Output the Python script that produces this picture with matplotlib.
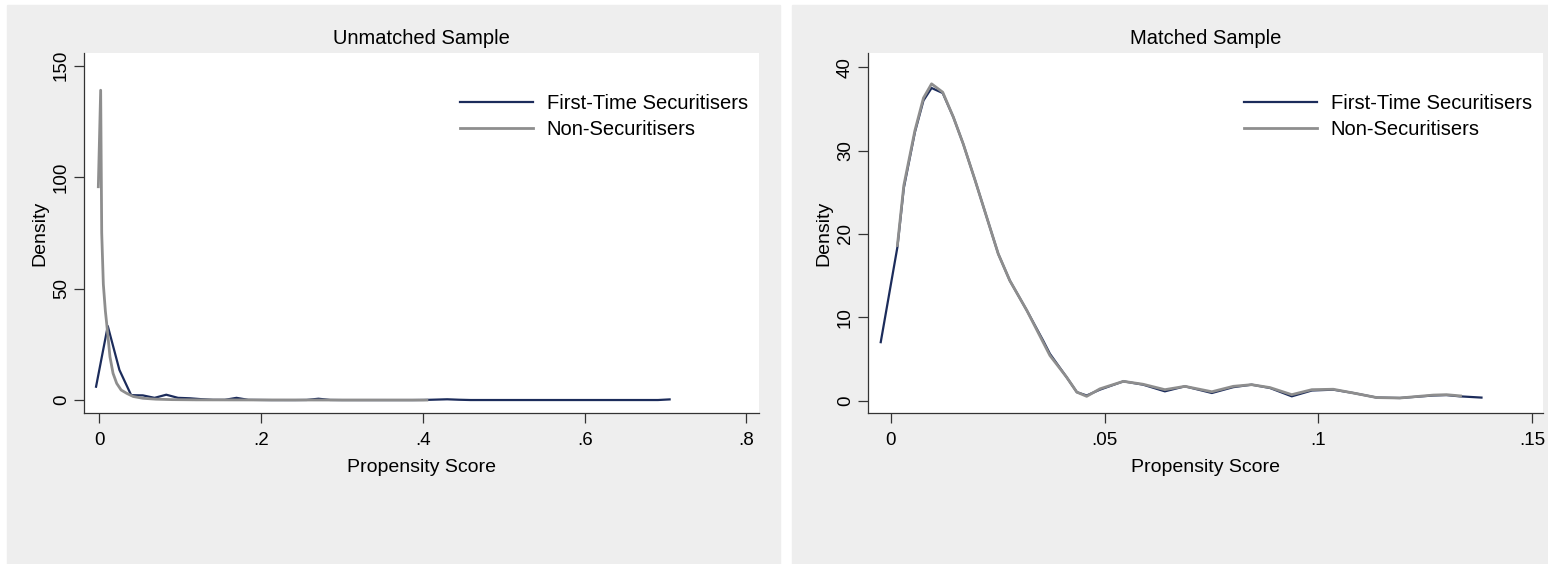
import matplotlib
matplotlib.use("Agg")
import matplotlib.pyplot as plt
from matplotlib.patches import Rectangle

plt.rcParams["font.family"] = ["Liberation Sans", "DejaVu Sans"]

# ---- data ----
# Unmatched sample
unm_first_x = [-0.004, 0.0105, 0.0249, 0.0394, 0.0539, 0.0683, 0.0828, 0.0973, 0.1118,
               0.1262, 0.1407, 0.1552, 0.1696, 0.1841, 0.1986, 0.2130, 0.2275, 0.2420,
               0.2564, 0.2709, 0.2854, 0.2998, 0.3143, 0.3288, 0.3433, 0.3577, 0.3722,
               0.3867, 0.4012, 0.4156, 0.4301, 0.4446, 0.4590, 0.4735, 0.4880, 0.5025,
               0.5169, 0.5314, 0.5459, 0.5603, 0.5748, 0.5893, 0.6037, 0.6182, 0.6327,
               0.6471, 0.6616, 0.6761, 0.6906, 0.705]
unm_first_y = [6.0, 33.2, 13.5, 2.2, 2.1, 1.0, 2.4, 1.0, 0.8,
               0.4, 0.1, 0.1, 1.0, 0.1, 0.05, 0.0, 0.0, 0.0,
               0.05, 0.6, 0.05, 0.0, 0.0, 0.0, 0.0, 0.0, 0.0,
               0.0, 0.05, 0.2, 0.35, 0.15, 0.02, 0.02, 0.02, 0.02,
               0.02, 0.02, 0.02, 0.02, 0.02, 0.02, 0.02, 0.02, 0.02,
               0.02, 0.02, 0.02, 0.02, 0.3]
unm_non_x = [-0.0012, 0.0017, 0.003, 0.005, 0.0075, 0.0091, 0.0132, 0.017, 0.0215,
             0.027, 0.034, 0.042, 0.054, 0.07, 0.09, 0.12, 0.2, 0.3, 0.405]
unm_non_y = [95.7, 139.0, 75.0, 52.0, 40.0, 34.5, 19.4, 12.0, 7.5,
             4.5, 3.0, 1.6, 0.8, 0.4, 0.2, 0.1, 0.05, 0.02, 0.01]

# Matched sample
mat_first_x = [-0.0024, 0.0015, 0.0030, 0.0056, 0.0076, 0.0095, 0.0121, 0.0146, 0.0169,
               0.0197, 0.0224, 0.0251, 0.0278, 0.0318, 0.0356, 0.0372, 0.0411, 0.0435,
               0.0458, 0.0489, 0.0544, 0.0590, 0.0641, 0.0688, 0.0751, 0.0801, 0.0844,
               0.0887, 0.0938, 0.0985, 0.1035, 0.1082, 0.1137, 0.1191, 0.1269, 0.1300,
               0.1331, 0.1382]
mat_first_y = [7.0, 18.4, 25.5, 32.2, 36.0, 37.5, 36.9, 34.0, 30.8,
               26.4, 22.0, 17.6, 14.4, 10.8, 7.2, 5.6, 2.8, 1.0,
               0.6, 1.3, 2.3, 1.9, 1.1, 1.7, 0.9, 1.6, 1.9,
               1.5, 0.5, 1.2, 1.3, 0.9, 0.35, 0.3, 0.6, 0.65,
               0.5, 0.35]
mat_non_x = [0.0015, 0.0030, 0.0056, 0.0076, 0.0095, 0.0121, 0.0146, 0.0169, 0.0197,
             0.0224, 0.0251, 0.0278, 0.0318, 0.0356, 0.0372, 0.0411, 0.0435, 0.0458,
             0.0489, 0.0544, 0.0590, 0.0641, 0.0688, 0.0751, 0.0801, 0.0844, 0.0887,
             0.0938, 0.0985, 0.1035, 0.1082, 0.1137, 0.1191, 0.1269, 0.1300, 0.1333]
mat_non_y = [18.6, 25.8, 32.4, 36.3, 38.0, 37.0, 34.0, 30.8, 26.4,
             22.0, 17.6, 14.4, 10.8, 7.0, 5.4, 2.8, 1.0, 0.5,
             1.4, 2.3, 1.95, 1.3, 1.7, 1.05, 1.7, 1.9, 1.55,
             0.7, 1.3, 1.35, 0.9, 0.35, 0.3, 0.65, 0.7, 0.55]

labels = ["First-Time Securitisers", "Non-Securitisers"]
unm_xticks = [0, 0.2, 0.4, 0.6, 0.8]
unm_xticklabels = ["0", ".2", ".4", ".6", ".8"]
unm_yticks = [0, 50, 100, 150]
mat_xticks = [0, 0.05, 0.1, 0.15]
mat_xticklabels = ["0", ".05", ".1", ".15"]
mat_yticks = [0, 10, 20, 30, 40]

NAVY = "#1c2c5b"
GRAY = "#8e8e8e"
BG = "#eeeeee"
W, H = 1548, 564

fig = plt.figure(figsize=(W / 100, H / 100), dpi=100)
fig.patch.set_facecolor("white")

# gray graph regions, kept behind the axes
fig.patches.append(Rectangle((7 / W, 0), (780 - 7) / W, 1 - 5 / H,
                             transform=fig.transFigure, color=BG, zorder=-5))
fig.patches.append(Rectangle((792 / W, 0), (W - 792) / W, 1 - 5 / H,
                             transform=fig.transFigure, color=BG, zorder=-5))


def make_panel(left_px, title, xs, ys, xlim, ylim, xticks, xticklabels, yticks):
    ax = fig.add_axes([left_px / W, (H - 413) / H, 675 / W, 360 / H])
    ax.set_zorder(2)
    ax.set_facecolor("white")
    ax.plot(xs[0], ys[0], color=NAVY, lw=1.6, label=labels[0], solid_joinstyle="round")
    ax.plot(xs[1], ys[1], color=GRAY, lw=2.0, label=labels[1], solid_joinstyle="round")
    ax.set_xlim(*xlim)
    ax.set_ylim(*ylim)
    ax.set_xticks(xticks)
    ax.set_xticklabels(xticklabels)
    ax.set_yticks(yticks)
    for s in ["top", "right"]:
        ax.spines[s].set_visible(False)
    for s in ["left", "bottom"]:
        ax.spines[s].set_color("#333333")
        ax.spines[s].set_linewidth(0.9)
    ax.tick_params(axis="both", length=7, width=0.9, color="#333333", labelsize=13.5)
    ax.tick_params(axis="x", pad=7)
    ax.tick_params(axis="y", pad=3, labelrotation=90)
    for lab in ax.get_yticklabels():
        lab.set_va("center")
    ax.set_xlabel("Propensity Score", fontsize=14, va="center")
    ax.xaxis.set_label_coords(0.5, -55 / 360)
    ax.set_ylabel("Density", fontsize=14, va="center")
    ax.yaxis.set_label_coords(-44 / 675, 0.5)
    fig.text((left_px + 337.5) / W, 1 - 38 / H, title, fontsize=14.5,
             ha="center", va="center")
    ax.legend(loc="upper left", bbox_to_anchor=(376 / 675, 1 - 41 / 360),
              frameon=False, fontsize=14.5, handlelength=3.6, handletextpad=0.7,
              labelspacing=0.36, borderpad=0, borderaxespad=0)
    return ax


make_panel(84, "Unmatched Sample", [unm_first_x, unm_non_x], [unm_first_y, unm_non_y],
           (-0.0189, 0.8155), (-5.8, 155.7), unm_xticks, unm_xticklabels, unm_yticks)
make_panel(868, "Matched Sample", [mat_first_x, mat_non_x], [mat_first_y, mat_non_y],
           (-0.00538, 0.1526), (-1.5, 41.7), mat_xticks, mat_xticklabels, mat_yticks)

fig.savefig("out.png", dpi=100, facecolor=fig.get_facecolor())
